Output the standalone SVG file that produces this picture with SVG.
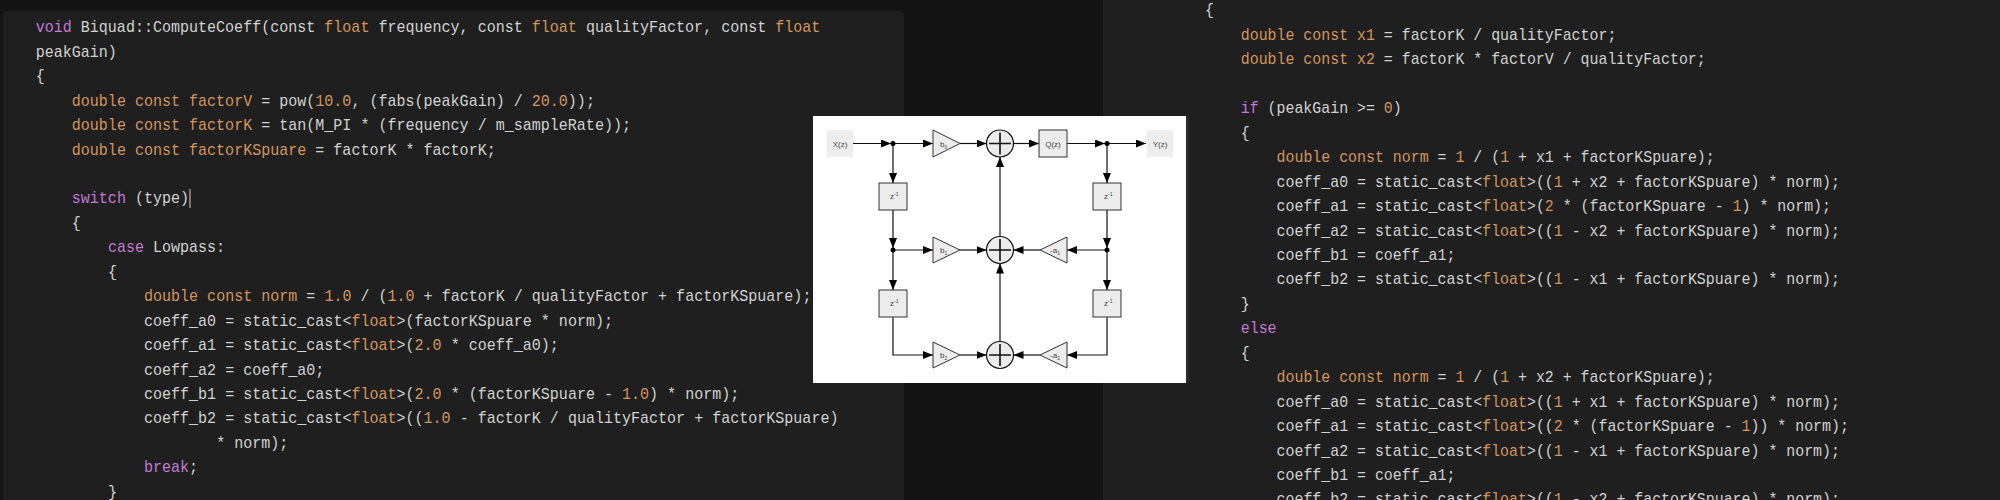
<svg xmlns="http://www.w3.org/2000/svg" width="2000" height="500" viewBox="0 0 2000 500">
<style>
.code{font-family:"Liberation Mono",monospace;font-size:16px;fill:#d2d2d2}
.k{fill:#c27ad6}.o{fill:#d4965c}
.ln{stroke:#111;stroke-width:1.2;fill:none}
.bx{fill:#ececec;stroke:#333;stroke-width:1}
.lb{font-family:"Liberation Sans",sans-serif;font-size:8px;fill:#444}
.sb{font-size:5px}
</style>
<defs>
<marker id="ah" viewBox="0 0 10 8" refX="10" refY="4" markerWidth="10" markerHeight="8" markerUnits="userSpaceOnUse" orient="auto"><path d="M0,0L10,4L0,8z" fill="#000"/></marker>
</defs>
<rect width="2000" height="500" fill="#141414"/>
<rect x="3" y="11" width="901" height="500" rx="4" fill="#1f1f1f"/>
<rect x="1103" y="0" width="897" height="500" fill="#1f1f1f"/>

<g id="code-left" transform="translate(35.7,0) scale(0.94,1)">
<text class="code" x="0" y="32.3"><tspan class="k">void</tspan> Biquad::ComputeCoeff(const <tspan class="o">float</tspan> frequency, const <tspan class="o">float</tspan> qualityFactor, const <tspan class="o">float</tspan></text>
<text class="code" x="0" y="56.75">peakGain)</text>
<text class="code" x="0" y="81.2">{</text>
<text class="code" x="38.4" y="105.65"><tspan class="o">double const factorV</tspan> = pow(<tspan class="o">10.0</tspan>, (fabs(peakGain) / <tspan class="o">20.0</tspan>));</text>
<text class="code" x="38.4" y="130.1"><tspan class="o">double const factorK</tspan> = tan(M_PI * (frequency / m_sampleRate));</text>
<text class="code" x="38.4" y="154.55"><tspan class="o">double const factorKSpuare</tspan> = factorK * factorK;</text>
<text class="code" x="38.4" y="203.45"><tspan class="k">switch</tspan> (type)</text>
<text class="code" x="38.4" y="227.9">{</text>
<text class="code" x="76.8" y="252.35"><tspan class="k">case</tspan> Lowpass:</text>
<text class="code" x="76.8" y="276.8">{</text>
<text class="code" x="115.2" y="301.25"><tspan class="o">double const norm</tspan> = <tspan class="o">1.0</tspan> / (<tspan class="o">1.0</tspan> + factorK / qualityFactor + factorKSpuare);</text>
<text class="code" x="115.2" y="325.7">coeff_a0 = static_cast&lt;<tspan class="o">float</tspan>&gt;(factorKSpuare * norm);</text>
<text class="code" x="115.2" y="350.15">coeff_a1 = static_cast&lt;<tspan class="o">float</tspan>&gt;(<tspan class="o">2.0</tspan> * coeff_a0);</text>
<text class="code" x="115.2" y="374.6">coeff_a2 = coeff_a0;</text>
<text class="code" x="115.2" y="399.05">coeff_b1 = static_cast&lt;<tspan class="o">float</tspan>&gt;(<tspan class="o">2.0</tspan> * (factorKSpuare - <tspan class="o">1.0</tspan>) * norm);</text>
<text class="code" x="115.2" y="423.5">coeff_b2 = static_cast&lt;<tspan class="o">float</tspan>&gt;((<tspan class="o">1.0</tspan> - factorK / qualityFactor + factorKSpuare)</text>
<text class="code" x="192" y="447.95">* norm);</text>
<text class="code" x="115.2" y="472.4"><tspan class="k">break</tspan>;</text>
<text class="code" x="76.8" y="496.85">}</text>
</g>
<line x1="190" y1="189" x2="190" y2="208" stroke="#d2d2d2" stroke-width="1"/>

<g id="code-right" transform="translate(1205,0) scale(0.932,1)">
<text class="code" x="0" y="15.5">{</text>
<text class="code" x="38.4" y="39.95"><tspan class="o">double const x1</tspan> = factorK / qualityFactor;</text>
<text class="code" x="38.4" y="64.4"><tspan class="o">double const x2</tspan> = factorK * factorV / qualityFactor;</text>
<text class="code" x="38.4" y="113.3"><tspan class="k">if</tspan> (peakGain &gt;= <tspan class="o">0</tspan>)</text>
<text class="code" x="38.4" y="137.75">{</text>
<text class="code" x="76.8" y="162.2"><tspan class="o">double const norm</tspan> = <tspan class="o">1</tspan> / (<tspan class="o">1</tspan> + x1 + factorKSpuare);</text>
<text class="code" x="76.8" y="186.65">coeff_a0 = static_cast&lt;<tspan class="o">float</tspan>&gt;((<tspan class="o">1</tspan> + x2 + factorKSpuare) * norm);</text>
<text class="code" x="76.8" y="211.1">coeff_a1 = static_cast&lt;<tspan class="o">float</tspan>&gt;(<tspan class="o">2</tspan> * (factorKSpuare - <tspan class="o">1</tspan>) * norm);</text>
<text class="code" x="76.8" y="235.55">coeff_a2 = static_cast&lt;<tspan class="o">float</tspan>&gt;((<tspan class="o">1</tspan> - x2 + factorKSpuare) * norm);</text>
<text class="code" x="76.8" y="260">coeff_b1 = coeff_a1;</text>
<text class="code" x="76.8" y="284.45">coeff_b2 = static_cast&lt;<tspan class="o">float</tspan>&gt;((<tspan class="o">1</tspan> - x1 + factorKSpuare) * norm);</text>
<text class="code" x="38.4" y="308.9">}</text>
<text class="code" x="38.4" y="333.35"><tspan class="k">else</tspan></text>
<text class="code" x="38.4" y="357.8">{</text>
<text class="code" x="76.8" y="382.25"><tspan class="o">double const norm</tspan> = <tspan class="o">1</tspan> / (<tspan class="o">1</tspan> + x2 + factorKSpuare);</text>
<text class="code" x="76.8" y="406.7">coeff_a0 = static_cast&lt;<tspan class="o">float</tspan>&gt;((<tspan class="o">1</tspan> + x1 + factorKSpuare) * norm);</text>
<text class="code" x="76.8" y="431.15">coeff_a1 = static_cast&lt;<tspan class="o">float</tspan>&gt;((<tspan class="o">2</tspan> * (factorKSpuare - <tspan class="o">1</tspan>)) * norm);</text>
<text class="code" x="76.8" y="455.6">coeff_a2 = static_cast&lt;<tspan class="o">float</tspan>&gt;((<tspan class="o">1</tspan> - x1 + factorKSpuare) * norm);</text>
<text class="code" x="76.8" y="480.05">coeff_b1 = coeff_a1;</text>
<text class="code" x="76.8" y="504.5">coeff_b2 = static_cast&lt;<tspan class="o">float</tspan>&gt;((<tspan class="o">1</tspan> - x2 + factorKSpuare) * norm);</text>
</g>

<rect x="813" y="116" width="373" height="267" fill="#ffffff"/>
<rect x="1186" y="116" width="3" height="267" fill="#2a2a2a"/>

<g id="connectors">
<line class="ln" x1="853" y1="143.5" x2="891" y2="143.5" marker-end="url(#ah)"/>
<line class="ln" x1="893" y1="143.5" x2="933" y2="143.5" marker-end="url(#ah)"/>
<line class="ln" x1="960" y1="143.5" x2="986.5" y2="143.5" marker-end="url(#ah)"/>
<line class="ln" x1="1013.5" y1="143.5" x2="1039" y2="143.5" marker-end="url(#ah)"/>
<line class="ln" x1="1067" y1="143.5" x2="1105" y2="143.5" marker-end="url(#ah)"/>
<line class="ln" x1="1107" y1="143.5" x2="1146" y2="143.5" marker-end="url(#ah)"/>
<line class="ln" x1="893" y1="143.5" x2="893" y2="183" marker-end="url(#ah)"/>
<line class="ln" x1="893" y1="210" x2="893" y2="248" marker-end="url(#ah)"/>
<line class="ln" x1="893" y1="250" x2="933" y2="250" marker-end="url(#ah)"/>
<line class="ln" x1="893" y1="250" x2="893" y2="290" marker-end="url(#ah)"/>
<path class="ln" d="M893,317V355H933" marker-end="url(#ah)"/>
<line class="ln" x1="960" y1="250" x2="986.5" y2="250" marker-end="url(#ah)"/>
<line class="ln" x1="960" y1="355" x2="986.5" y2="355" marker-end="url(#ah)"/>
<line class="ln" x1="1000" y1="341.5" x2="1000" y2="263.5" marker-end="url(#ah)"/>
<line class="ln" x1="1000" y1="236.5" x2="1000" y2="157" marker-end="url(#ah)"/>
<line class="ln" x1="1107" y1="143.5" x2="1107" y2="183" marker-end="url(#ah)"/>
<line class="ln" x1="1107" y1="210" x2="1107" y2="248" marker-end="url(#ah)"/>
<line class="ln" x1="1107" y1="250" x2="1067" y2="250" marker-end="url(#ah)"/>
<line class="ln" x1="1040" y1="250" x2="1013.5" y2="250" marker-end="url(#ah)"/>
<line class="ln" x1="1107" y1="250" x2="1107" y2="290" marker-end="url(#ah)"/>
<path class="ln" d="M1107,317V355H1067" marker-end="url(#ah)"/>
<line class="ln" x1="1040" y1="355" x2="1013.5" y2="355" marker-end="url(#ah)"/>
<circle cx="893" cy="143.5" r="2.5" fill="#000"/>
<circle cx="1107" cy="143.5" r="2.5" fill="#000"/>
<circle cx="893" cy="250" r="2.5" fill="#000"/>
<circle cx="1107" cy="250" r="2.5" fill="#000"/>
</g>

<g id="X"><rect x="827" y="130" width="26" height="27" fill="#eeeeee"/><text class="lb" x="840" y="146.5" text-anchor="middle">X(z)</text></g>
<g id="Y"><rect x="1147" y="130" width="26" height="27" fill="#eeeeee"/><text class="lb" x="1160" y="146.5" text-anchor="middle">Y(z)</text></g>
<g id="Q"><rect class="bx" x="1039" y="130" width="28" height="27"/><text class="lb" x="1053" y="146.5" text-anchor="middle">Q(z)</text></g>
<g id="b0"><polygon class="bx" points="933,130 933,157 960,143.5"/><text class="lb" x="940" y="146.5">b<tspan class="sb" dy="2">0</tspan></text></g>
<g id="b1"><polygon class="bx" points="933,237 933,263 960,250"/><text class="lb" x="940" y="253">b<tspan class="sb" dy="2">1</tspan></text></g>
<g id="b2"><polygon class="bx" points="933,342 933,368 960,355"/><text class="lb" x="940" y="358">b<tspan class="sb" dy="2">2</tspan></text></g>
<g id="a1"><polygon class="bx" points="1067,237 1067,263 1040,250"/><text class="lb" x="1050" y="253">-a<tspan class="sb" dy="2">1</tspan></text></g>
<g id="a2"><polygon class="bx" points="1067,342 1067,368 1040,355"/><text class="lb" x="1050" y="358">-a<tspan class="sb" dy="2">2</tspan></text></g>
<g id="zl1"><rect class="bx" x="879" y="183" width="28" height="27"/><text class="lb" x="890" y="199">z<tspan class="sb" dy="-3">-1</tspan></text></g>
<g id="zl2"><rect class="bx" x="879" y="290" width="28" height="27"/><text class="lb" x="890" y="306">z<tspan class="sb" dy="-3">-1</tspan></text></g>
<g id="zr1"><rect class="bx" x="1093" y="183" width="28" height="27"/><text class="lb" x="1104" y="199">z<tspan class="sb" dy="-3">-1</tspan></text></g>
<g id="zr2"><rect class="bx" x="1093" y="290" width="28" height="27"/><text class="lb" x="1104" y="306">z<tspan class="sb" dy="-3">-1</tspan></text></g>
<g id="s0"><circle cx="1000" cy="143.5" r="13.5" fill="#ececec" stroke="#111" stroke-width="1.2"/><path d="M989,143.5H1011M1000,132.5V154.5" stroke="#111" stroke-width="1.6"/></g>
<g id="s1"><circle cx="1000" cy="250" r="13.5" fill="#ececec" stroke="#111" stroke-width="1.2"/><path d="M989,250H1011M1000,239V261" stroke="#111" stroke-width="1.6"/></g>
<g id="s2"><circle cx="1000" cy="355" r="13.5" fill="#ececec" stroke="#111" stroke-width="1.2"/><path d="M989,355H1011M1000,344V366" stroke="#111" stroke-width="1.6"/></g>
</svg>
